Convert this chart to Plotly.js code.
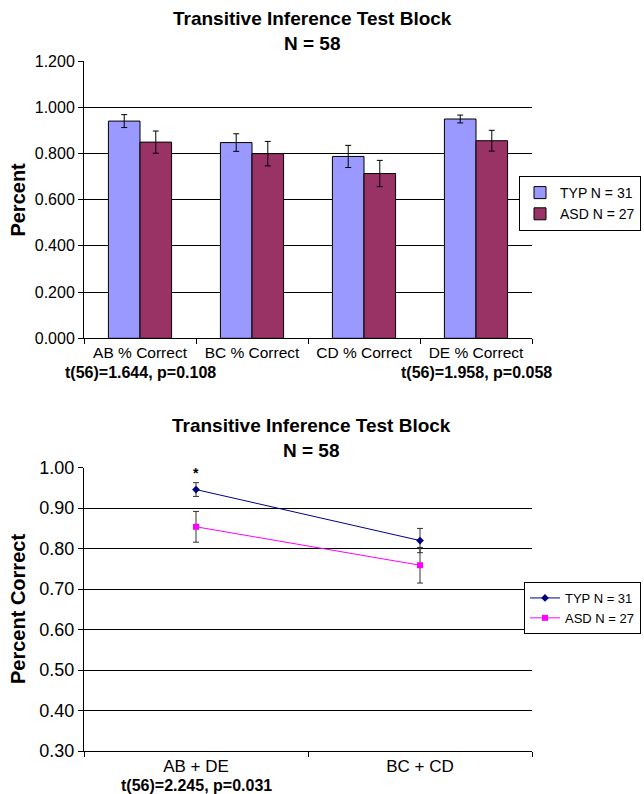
<!DOCTYPE html>
<html>
<head>
<meta charset="utf-8">
<script src="https://cdn.plot.ly/plotly-3.0.1.min.js"></script>
<style>html,body{margin:0;padding:0;background:#fff;}#chart{width:644px;height:794px;}</style>
</head>
<body>
<div id="chart"></div>
<script>
// ---- Top chart data (bar) ----
const barCategories = ['AB % Correct', 'BC % Correct', 'CD % Correct', 'DE % Correct'];
const barTyp = [0.940, 0.847, 0.787, 0.949];
const barTypErr = [0.028, 0.038, 0.048, 0.017];
const barAsd = [0.849, 0.799, 0.713, 0.855];
const barAsdErr = [0.048, 0.053, 0.057, 0.045];
const barTickVals = [0, 0.2, 0.4, 0.6, 0.8, 1.0, 1.2];
const barStats = [['AB % Correct', 't(56)=1.644, p=0.108'], ['DE % Correct', 't(56)=1.958, p=0.058']];

// ---- Bottom chart data (line) ----
const lineCategories = ['AB + DE', 'BC + CD'];
const lineTyp = [0.946, 0.820];
const lineTypErr = [0.017, 0.030];
const lineAsd = [0.854, 0.759];
const lineAsdErr = [0.038, 0.044];
const lineStats = [['AB + DE', 't(56)=2.245, p=0.031']];
const starMark = ['AB + DE', 0.987];

const seriesNames = ['TYP N = 31', 'ASD N = 27'];
const chartTitle = 'Transitive Inference Test Block<br>N = 58';

const FONT = 'Liberation Sans, Arial, sans-serif';
const W = 644, H = 794, L = 84, R = 532;
const py = (p) => 1 - p / H;          // pixel y -> paper
const px = (p) => (p - L) / (R - L);  // pixel x -> paper

const traces = [
  {type: 'bar', name: seriesNames[0], x: barCategories, y: barTyp, xaxis: 'x', yaxis: 'y',
   marker: {color: '#9999FF', line: {color: '#000', width: 1}},
   error_y: {type: 'data', array: barTypErr, visible: true, color: '#000', thickness: 1, width: 3},
   legend: 'legend'},
  {type: 'bar', name: seriesNames[1], x: barCategories, y: barAsd, xaxis: 'x', yaxis: 'y',
   marker: {color: '#993366', line: {color: '#000', width: 1}},
   error_y: {type: 'data', array: barAsdErr, visible: true, color: '#000', thickness: 1, width: 3},
   legend: 'legend'},
  {type: 'scatter', mode: 'lines+markers', name: seriesNames[0], x: lineCategories, y: lineTyp,
   xaxis: 'x2', yaxis: 'y2', line: {color: '#000080', width: 1},
   marker: {symbol: 'diamond', size: 6, color: '#000080'},
   error_y: {type: 'data', array: lineTypErr, visible: true, color: '#333', thickness: 1, width: 3},
   legend: 'legend2'},
  {type: 'scatter', mode: 'lines+markers', name: seriesNames[1], x: lineCategories, y: lineAsd,
   xaxis: 'x2', yaxis: 'y2', line: {color: '#FF00FF', width: 1},
   marker: {symbol: 'square', size: 6, color: '#FF00FF'},
   error_y: {type: 'data', array: lineAsdErr, visible: true, color: '#333', thickness: 1, width: 3},
   legend: 'legend2'}
];

const axisCommon = {showline: true, linecolor: '#000', linewidth: 1, ticks: 'outside', ticklen: 5,
  tickcolor: '#000', zeroline: false, fixedrange: true};

const annotations = [
  {xref: 'paper', yref: 'paper', x: px(312), y: py(31.5), text: '<b>' + chartTitle + '</b>',
   showarrow: false, xanchor: 'center', yanchor: 'middle', font: {family: FONT, size: 19, color: '#000'}},
  {xref: 'paper', yref: 'paper', x: px(311), y: py(438), text: '<b>' + chartTitle + '</b>',
   showarrow: false, xanchor: 'center', yanchor: 'middle', font: {family: FONT, size: 19, color: '#000'}},
  {xref: 'paper', yref: 'paper', x: px(18), y: py(199.6), text: '<b>Percent</b>', textangle: -90,
   showarrow: false, xanchor: 'center', yanchor: 'middle', font: {family: FONT, size: 20, color: '#000'}},
  {xref: 'paper', yref: 'paper', x: px(18), y: py(609), text: '<b>Percent Correct</b>', textangle: -90,
   showarrow: false, xanchor: 'center', yanchor: 'middle', font: {family: FONT, size: 20, color: '#000'}},
  {xref: 'x2', yref: 'y2', x: starMark[0], y: starMark[1], text: '<b>*</b>', showarrow: false,
   xanchor: 'center', yanchor: 'middle', font: {family: FONT, size: 14, color: '#000'}}
];
barStats.forEach(([c, t]) => annotations.push({xref: 'x', yref: 'paper', x: c, y: py(373), text: '<b>' + t + '</b>',
  showarrow: false, xanchor: 'center', yanchor: 'middle', font: {family: FONT, size: 16, color: '#000'}}));
lineStats.forEach(([c, t]) => annotations.push({xref: 'x2', yref: 'paper', x: c, y: py(785), text: '<b>' + t + '</b>',
  showarrow: false, xanchor: 'center', yanchor: 'middle', font: {family: FONT, size: 16, color: '#000'}}));

const layout = {
  width: W, height: H,
  margin: {l: L, r: W - R, t: 0, b: 0, pad: 0},
  paper_bgcolor: '#fff', plot_bgcolor: '#fff',
  font: {family: FONT, color: '#000'},
  barmode: 'group', bargap: 0.436, bargroupgap: 0,
  xaxis: Object.assign({}, axisCommon, {domain: [0, 1], anchor: 'y', type: 'category', tickson: 'boundaries',
    range: [-0.5, barCategories.length - 0.5], autorange: false, tickangle: 0,
    showgrid: false, tickfont: {family: FONT, size: 15.5, color: '#000'}}),
  yaxis: Object.assign({}, axisCommon, {domain: [py(338.3), py(61)], anchor: 'x', range: [0, 1.2],
    tickvals: barTickVals, tickformat: '.3f', showgrid: true, gridcolor: '#000', gridwidth: 1,
    tickfont: {family: FONT, size: 16, color: '#000'}}),
  xaxis2: Object.assign({}, axisCommon, {domain: [0, 1], anchor: 'y2', type: 'category', tickson: 'boundaries',
    range: [-0.5, lineCategories.length - 0.5], autorange: false, tickangle: 0,
    showgrid: false, tickfont: {family: FONT, size: 17, color: '#000'}}),
  yaxis2: Object.assign({}, axisCommon, {domain: [py(751), py(467.7)], anchor: 'x2', range: [0.3, 1.0],
    dtick: 0.1, tick0: 0.3, tickformat: '.2f', showgrid: true, gridcolor: '#000', gridwidth: 1,
    tickfont: {family: FONT, size: 18, color: '#000'}}),
  legend: {x: px(641), xanchor: 'right', y: py(176), yanchor: 'top', bordercolor: '#000', borderwidth: 1,
    bgcolor: '#fff', font: {family: FONT, size: 14, color: '#000'}, tracegroupgap: 0, itemwidth: 30},
  legend2: {x: px(641), xanchor: 'right', y: py(582), yanchor: 'top', bordercolor: '#000', borderwidth: 1,
    bgcolor: '#fff', font: {family: FONT, size: 13, color: '#000'}, tracegroupgap: 0, itemwidth: 30},
  showlegend: true,
  annotations: annotations
};

Plotly.newPlot('chart', traces, layout, {displayModeBar: false, staticPlot: true});
</script>
</body>
</html>
